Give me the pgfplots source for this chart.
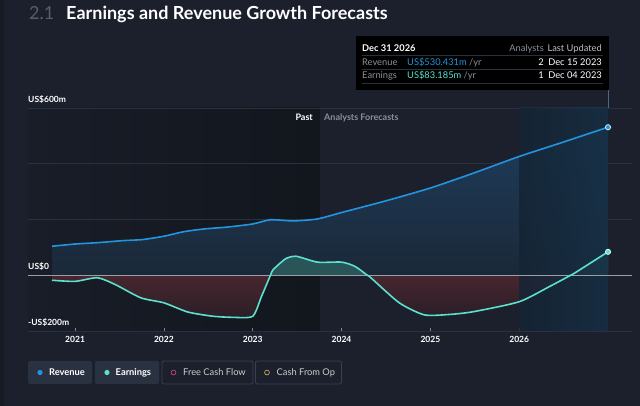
\documentclass[border=0pt]{standalone}
\usepackage{fontspec}
\setmainfont{Lato}
\usepackage{pgfplots}
\pgfplotsset{compat=1.18}

\definecolor{bg}{HTML}{1B202C}
\definecolor{edge}{HTML}{161A23}
\definecolor{pastbg}{HTML}{12161D}
\definecolor{rev}{HTML}{2394DF}
\definecolor{earn}{HTML}{5CE1CF}
\definecolor{gridc}{HTML}{2A313E}
\definecolor{zeroc}{HTML}{9A9EA6}
\definecolor{greytxt}{HTML}{8A909A}
\definecolor{btn}{HTML}{2A3140}
\definecolor{btnline}{HTML}{394150}
\definecolor{fcf}{HTML}{C0407E}
\definecolor{cfo}{HTML}{C8A060}
\definecolor{band}{HTML}{1F4260}
\definecolor{revtop}{HTML}{1E3D5C}
\definecolor{revbot}{HTML}{1B2838}
\definecolor{negtop}{HTML}{48262F}
\definecolor{negbot}{HTML}{2A1E27}
\definecolor{posfill}{HTML}{2A5558}

\pgfplotstableread{
year   rev
2020.74 104
2021.00 112
2021.26 117
2021.53 124
2021.76 128
2022.00 140
2022.22 156
2022.45 166
2022.72 173
2023.00 184
2023.20 199
2023.46 195
2023.73 202
2024.00 225
2024.50 267
2025.00 313
2025.50 368
2026.00 426
2026.50 478
2027.00 531
}\revtable

\pgfplotstableread{
year   earn
2020.74 -18
2021.00 -22
2021.25 -9
2021.45 -33
2021.74 -81
2022.00 -99
2022.27 -132
2022.55 -147
2022.78 -151
2023.00 -147
2023.10 -75
2023.20 0
2023.23 20
2023.37 59
2023.49 68
2023.73 47
2024.00 47
2024.15 32
2024.29 0
2024.33 -9
2024.65 -99
2024.93 -142
2025.20 -141
2025.48 -131
2026.00 -95
2026.35 -39
2026.58 0
2026.63 9
2027.00 84
}\earntable

\begin{document}
\begin{tikzpicture}
\useasboundingbox (0,0) rectangle (640pt,406pt);
\fill[bg] (0,0) rectangle (640pt,406pt);
\fill[edge] (0,0) rectangle (4pt,406pt);
% past region
\shade[left color=bg!70!pastbg, right color=pastbg] (28pt,75pt) rectangle (319.3pt,298pt);

\begin{axis}[
  at={(28pt,75pt)}, anchor=south west,
  scale only axis, width=604pt, height=223pt,
  xmin=2020.47, xmax=2027.27, ymin=-200, ymax=600,
  axis line style={draw=none},
  xtick={2021,2022,2023,2024,2025,2026},
  xticklabels={2021,2022,2023,2024,2025,2026},
  ytick={-200,0,200,400,600}, yticklabels={},
  ymajorgrids, major grid style={gridc, line width=0.8pt},
  xtick pos=bottom, ytick style={draw=none},
  x tick style={gridc!60!white, line width=0.6pt},
  major tick length=3pt,
  x tick label style={font=\fontsize{8.5}{10}\selectfont\bfseries, text=white, yshift=-2pt},
  /pgf/number format/assume math mode=true,
]
% areas
\addplot[top color=revtop, bottom color=revbot, draw=none, smooth, tension=0.4] table[x=year,y=rev] {\revtable} \closedcycle;
\addplot[top color=negtop, bottom color=negbot, draw=none, smooth, tension=0.4] table[x=year,y=earn, restrict x to domain=2020.7:2023.21] {\earntable} \closedcycle;
\addplot[fill=posfill, draw=none, smooth, tension=0.4] table[x=year,y=earn, restrict x to domain=2023.19:2024.30] {\earntable} \closedcycle;
\addplot[top color=negtop, bottom color=negbot, draw=none, smooth, tension=0.4] table[x=year,y=earn, restrict x to domain=2024.28:2026.59] {\earntable} \closedcycle;
\addplot[fill=posfill, draw=none, smooth, tension=0.4] table[x=year,y=earn, restrict x to domain=2026.57:2027.1] {\earntable} \closedcycle;
% forecast highlight band
\fill[left color=band!55!bg, right color=band, fill opacity=0.6]
  (axis cs:2026,-200) rectangle (axis cs:2027,600);
% zero line and series
\addplot[zeroc, line width=1pt] coordinates {(2020.47,0) (2027.27,0)};
\addplot[rev, line width=1.6pt, smooth, tension=0.4] table[x=year,y=rev] {\revtable};
\addplot[earn, line width=1.6pt, smooth, tension=0.4] table[x=year,y=earn] {\earntable};
\addplot[only marks, mark=*, mark size=2.6pt, mark options={fill=rev, draw=white!80!rev, line width=0.8pt}]
  coordinates {(2027,531)};
\addplot[only marks, mark=*, mark size=2.6pt, mark options={fill=earn, draw=white!80!earn, line width=0.8pt}]
  coordinates {(2027,84)};
\end{axis}

% y labels above grid lines
\node[anchor=base west, font=\fontsize{8.5}{10}\selectfont\bfseries, text=white, inner sep=0] at (28pt,303pt) {US\$600m};
\node[anchor=base west, font=\fontsize{8.5}{10}\selectfont\bfseries, text=white, inner sep=0] at (28pt,136pt) {US\$0};
\node[anchor=base west, font=\fontsize{8.5}{10}\selectfont\bfseries, text=white, inner sep=0] at (28pt,80pt) {-US\$200m};

% past / forecast labels
\node[anchor=base east, font=\fontsize{9}{10}\selectfont\bfseries, text=white, inner sep=0] at (313pt,285pt) {Past};
\node[anchor=base west, font=\fontsize{9}{10}\selectfont\bfseries, text=greytxt, inner sep=0] at (324pt,285pt) {Analysts Forecasts};

% title
\node[anchor=base west, inner sep=0, font=\fontsize{18}{22}\selectfont, text=greytxt!55!bg] at (29pt,386pt) {2.1};
\node[anchor=base west, inner sep=0, font=\fontsize{18}{22}\selectfont\bfseries, text=white] at (66pt,386pt) {Earnings and Revenue Growth Forecasts};

% tooltip
\draw[band!80!white, line width=0.5pt] (608pt,298pt) -- (608pt,316pt);
\fill[black] (356pt,316pt) rectangle (609pt,370pt);
\begin{scope}[every node/.style={inner sep=0, font=\fontsize{9.3}{11}\selectfont}]
\node[anchor=base west, text=white, font=\fontsize{9.3}{11}\selectfont\bfseries] at (362pt,354pt) {Dec 31 2026};
\node[anchor=base east, text=greytxt] at (544pt,354pt) {Analysts};
\node[anchor=base east, text=white!75!black] at (602pt,354pt) {Last Updated};
\draw[gridc, line width=0.6pt] (362pt,351pt) -- (603pt,351pt);
\node[anchor=base west, text=greytxt] at (362pt,340pt) {Revenue};
\node[anchor=base west] at (407pt,340pt) {\textcolor{rev}{US\$530.431m} \textcolor{greytxt}{/yr}};
\node[anchor=base east, text=white] at (544pt,340pt) {2};
\node[anchor=base east, text=white] at (602pt,340pt) {Dec 15 2023};
\draw[gridc, line width=0.6pt] (362pt,337pt) -- (603pt,337pt);
\node[anchor=base west, text=greytxt] at (362pt,327pt) {Earnings};
\node[anchor=base west] at (407pt,327pt) {\textcolor{earn}{US\$83.185m} \textcolor{greytxt}{/yr}};
\node[anchor=base east, text=white] at (544pt,327pt) {1};
\node[anchor=base east, text=white] at (602pt,327pt) {Dec 04 2023};
\draw[gridc, line width=0.6pt] (362pt,323pt) -- (603pt,323pt);
\end{scope}

% legend buttons
\begin{scope}[every node/.style={inner sep=0, anchor=base west, font=\fontsize{9.3}{11}\selectfont}]
\fill[btn, rounded corners=2pt] (28pt,22pt) rectangle (92pt,45pt);
\fill[rev] (40pt,33.5pt) circle (2.6pt);
\node[text=white, font=\fontsize{9.3}{11}\selectfont\bfseries] at (49pt,30pt) {Revenue};
\fill[btn, rounded corners=2pt] (95pt,22pt) rectangle (159pt,45pt);
\fill[earn] (107pt,33.5pt) circle (2.6pt);
\node[text=white, font=\fontsize{9.3}{11}\selectfont\bfseries] at (115.5pt,30pt) {Earnings};
\draw[btnline, rounded corners=2pt, line width=0.8pt] (162pt,22pt) rectangle (253pt,45pt);
\draw[fcf, line width=0.7pt] (173.5pt,33.5pt) circle (2.4pt);
\node[text=white!80!black] at (183pt,30pt) {Free Cash Flow};
\draw[btnline, rounded corners=2pt, line width=0.8pt] (255.5pt,22pt) rectangle (341.5pt,45pt);
\draw[cfo, line width=0.7pt] (267pt,33.5pt) circle (2.4pt);
\node[text=white!80!black] at (276.5pt,30pt) {Cash From Op};
\end{scope}
\end{tikzpicture}
\end{document}
